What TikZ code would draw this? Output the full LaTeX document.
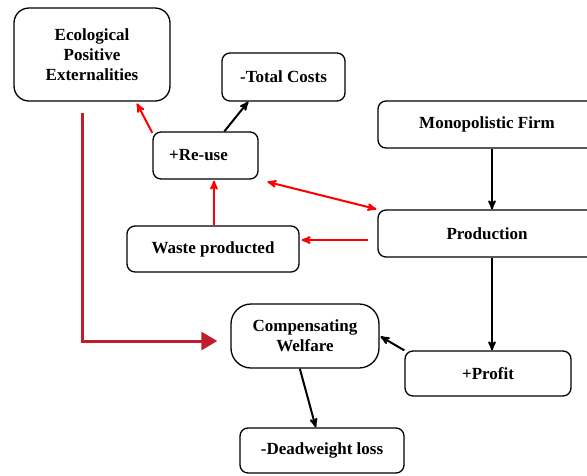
\documentclass[tikz,border=0pt]{standalone}
\usepackage{fontspec}
\setmainfont{Liberation Serif}
\usepackage{tikz}
\usetikzlibrary{arrows,arrows.meta}
\definecolor{darkred}{RGB}{192,30,45}

\begin{document}
\begin{tikzpicture}[->,>=stealth',x=1pt,y=-1pt,line width=2pt,
        font=\fontsize{17}{20}\selectfont\bfseries]
        \tikzstyle{every node}=[draw,line width=1.3pt,rounded corners=8pt,align=center,inner sep=0pt]
        \tikzstyle{red line}=[red]
  \useasboundingbox (0,0) rectangle (587,475);
  \node[minimum width=156pt,minimum height=93pt,rounded corners=15pt] (eco) at (92,54.5) {Ecological\\Positive\\Externalities};
  \node[minimum width=123pt,minimum height=48pt] (cost) at (283.5,77) {-Total Costs};
  \node[minimum width=105pt,minimum height=47pt] (reuse) at (205.5,155.5) {+Re-use\hspace{14pt}};
  \node[minimum width=218pt,minimum height=47pt] (firm) at (487,124.5) {Monopolistic Firm};
  \node[minimum width=218pt,minimum height=47pt] (prod) at (487,233.5) {Production};
  \node[minimum width=172pt,minimum height=46pt] (waste) at (213,249) {Waste producted};
  \node[minimum width=148pt,minimum height=64pt,rounded corners=20pt] (comp) at (305,336) {Compensating\\Welfare};
  \node[minimum width=166pt,minimum height=45pt] (profit) at (488,373.5) {+Profit};
  \node[minimum width=164pt,minimum height=45pt] (dwl) at (322,450.5) {-Deadweight loss};

  \draw[red line,shorten >=2pt] (reuse.157) -- (eco.-47);
  \draw (reuse.52) -- (cost.215);
  \draw[red line,<->,shorten <=9pt,shorten >=1pt] (reuse.south east) -- (prod.north west);
  \draw[red line,shorten >=1pt] ([xshift=1pt]waste.north) -- ([xshift=1pt]waste.north |- reuse.south);
  \draw[red line,shorten <=9pt,shorten >=2pt] ([yshift=-6.5pt]prod.west) -- ([yshift=-6.5pt]prod.west -| waste.east);
  \draw ([xshift=5pt]firm.south) -- ([xshift=5pt]prod.north);
  \draw ([xshift=5pt]prod.south) -- ([xshift=5pt]prod.south |- profit.north);
  \draw[shorten >=1pt] (profit.north west) -- (comp.east);
  \draw (comp.-99) -- (dwl.105);
  \draw[darkred,line width=3pt,-{Triangle[length=16pt,width=18pt]},shorten <=11pt,shorten >=13pt]
        ([xshift=-10pt]eco.south) |- ([yshift=-5pt]comp.west);
\end{tikzpicture}
\end{document}
